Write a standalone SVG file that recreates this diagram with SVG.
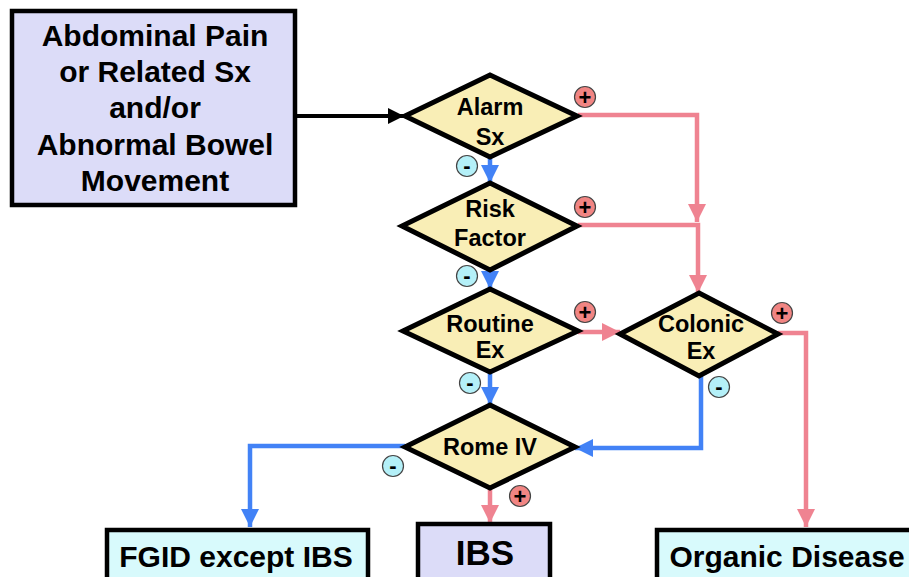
<svg xmlns="http://www.w3.org/2000/svg" width="909" height="577" viewBox="0 0 909 577">
<style>
text{font-family:"Liberation Sans",Arial,sans-serif;font-weight:bold;fill:#000;text-anchor:middle}
.box{stroke:#000;stroke-width:4.5}
.dia{fill:#f9eeb6;stroke:#000;stroke-width:5;stroke-linejoin:miter}
.t30{font-size:30px}
.t22{font-size:23.5px}
.pos{fill:none;stroke:#ef8391;stroke-width:4.5}
.neg{fill:none;stroke:#4282f6;stroke-width:4.5}
.blk{fill:none;stroke:#000;stroke-width:4}
.bp{fill:#f18583;stroke:#444;stroke-width:1.2}
.bn{fill:#b4f0f8;stroke:#444;stroke-width:1.2}
.sg{font-size:22px}
</style>
<defs>
<marker id="ab" viewBox="0 0 10 10" refX="10" refY="5" markerWidth="4" markerHeight="4" orient="auto" markerUnits="strokeWidth"><path d="M0,0L10,5L0,10z" fill="#000"/></marker>
<marker id="ap" viewBox="0 0 10 10" refX="10" refY="5" markerWidth="4" markerHeight="4" orient="auto" markerUnits="strokeWidth"><path d="M0,0L10,5L0,10z" fill="#ef8391"/></marker>
<marker id="an" viewBox="0 0 10 10" refX="10" refY="5" markerWidth="4" markerHeight="4" orient="auto" markerUnits="strokeWidth"><path d="M0,0L10,5L0,10z" fill="#4282f6"/></marker>
</defs>
<g id="connectors">
<path class="blk" d="M295,116H404" marker-end="url(#ab)"/>
<path class="neg" d="M490,158V183" marker-end="url(#an)"/>
<path class="neg" d="M490,270V289" marker-end="url(#an)"/>
<path class="neg" d="M490,372V405" marker-end="url(#an)"/>
<path class="neg" d="M405,446H250V527" marker-end="url(#an)"/>
<path class="neg" d="M701,376V448H575" marker-end="url(#an)"/>
<path class="pos" d="M578,115H697V222" marker-end="url(#ap)"/>
<path class="pos" d="M578,225H698V293" marker-end="url(#ap)"/>
<path class="pos" d="M578,332H620" marker-end="url(#ap)"/>
<path class="pos" d="M778,333H806V527" marker-end="url(#ap)"/>
<path class="pos" d="M490,489V523" marker-end="url(#ap)"/>
</g>
<g id="start">
<rect class="box" x="12" y="11" width="283" height="194" fill="#dcdcf8"/>
<text class="t30" x="155" y="46">Abdominal Pain</text>
<text class="t30" x="155" y="82">or Related Sx</text>
<text class="t30" x="155" y="118">and/or</text>
<text class="t30" x="155" y="155">Abnormal Bowel</text>
<text class="t30" x="155" y="191">Movement</text>
</g>
<g id="alarm">
<path class="dia" d="M490,75L577,116L490,157L405,116Z"/>
<text class="t22" x="490" y="115">Alarm</text>
<text class="t22" x="490" y="145">Sx</text>
</g>
<g id="risk">
<path class="dia" d="M490,183L577,226L490,270L402,226Z"/>
<text class="t22" x="490" y="217">Risk</text>
<text class="t22" x="490" y="246">Factor</text>
</g>
<g id="routine">
<path class="dia" d="M490,289L578,331L490,372L403,331Z"/>
<text class="t22" x="490" y="332">Routine</text>
<text class="t22" x="490" y="358">Ex</text>
</g>
<g id="colonic">
<path class="dia" d="M699,293L778,334L699,376L620,334Z"/>
<text class="t22" x="701" y="332">Colonic</text>
<text class="t22" x="701" y="359">Ex</text>
</g>
<g id="rome">
<path class="dia" d="M490,405L575,447L490,488L405,447Z"/>
<text class="t22" x="490" y="455">Rome IV</text>
</g>
<g id="fgid">
<rect class="box" x="107" y="530" width="261" height="60" fill="#d8fafc"/>
<text class="t30" x="236" y="567">FGID except IBS</text>
</g>
<g id="ibs">
<rect class="box" x="418" y="524" width="132" height="66" fill="#dcdcf8"/>
<text x="485" y="565" style="font-size:35px">IBS</text>
</g>
<g id="organic">
<rect class="box" x="657" y="530" width="270" height="60" fill="#d8fafc"/>
<text class="t30" x="787" y="567">Organic Disease</text>
</g>
<g id="badges">
<circle class="bp" cx="585" cy="97" r="10.5"/><text class="sg" x="585" y="104.5">+</text>
<circle class="bp" cx="585" cy="207" r="10.5"/><text class="sg" x="585" y="214.5">+</text>
<circle class="bp" cx="585" cy="312" r="10.5"/><text class="sg" x="585" y="319.5">+</text>
<circle class="bp" cx="782" cy="313" r="10.5"/><text class="sg" x="782" y="320.5">+</text>
<circle class="bp" cx="520" cy="496" r="10.5"/><text class="sg" x="520" y="503.5">+</text>
<circle class="bn" cx="467" cy="166" r="10.5"/><text class="sg" x="467" y="172.5">-</text>
<circle class="bn" cx="467" cy="276" r="10.5"/><text class="sg" x="467" y="282.5">-</text>
<circle class="bn" cx="470" cy="383" r="10.5"/><text class="sg" x="470" y="389.5">-</text>
<circle class="bn" cx="393" cy="466" r="10.5"/><text class="sg" x="393" y="472.5">-</text>
<circle class="bn" cx="719" cy="387" r="10.5"/><text class="sg" x="719" y="393.5">-</text>
</g>
</svg>
